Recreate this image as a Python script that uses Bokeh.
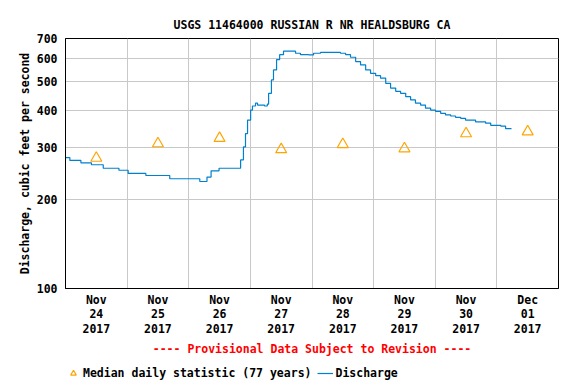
from bokeh.plotting import figure
from bokeh.layouts import column
from bokeh.models import (FixedTicker, PrintfTickFormatter, CustomJSTickFormatter,
                          Legend, LegendItem, Title, Range1d)
from bokeh.embed import file_html
from bokeh.resources import INLINE

# Discharge, hours after 2017-11-24 00:00 and cubic feet per second
q_hours = [0, 1.7, 6.0, 10.1, 14.7, 20.8, 24.4, 31.3, 40.6, 52.3, 55.1, 56.7, 59.8,
           66.9, 68.2, 69.3, 70.1, 70.9, 72.1, 72.8, 74.0, 74.8, 77.5, 78.6, 79.1,
           80.2, 81.0, 82.2, 83.4, 84.9, 86.9, 89.6, 91.5, 94.7, 96.6, 99.3, 103.2,
           107.1, 109.1, 111.0, 113.0, 114.9, 116.9, 118.8, 120.8, 122.7, 124.7,
           126.6, 128.6, 130.5, 132.5, 134.4, 136.3, 138.3, 140.2, 142.2, 144.1,
           146.1, 148.0, 150.0, 151.9, 153.9, 155.8, 159.7, 163.6, 165.6, 169.5,
           171.4, 173.7]
q_values = [277, 271, 266, 262, 255, 251, 245, 241, 235, 230, 238, 250, 255,
            255, 272, 301, 334, 371, 401, 414, 423, 417, 414, 420, 457,
            507, 548, 594, 617, 634, 634, 624, 617, 616, 624, 628, 628,
            624, 617, 605, 585, 570, 548, 534, 524, 514, 494,
            476, 464, 457, 445, 434, 423, 417, 407, 401, 397,
            391, 386, 383, 379, 376, 371, 366, 362, 356, 354,
            347, 347]

# Median daily statistic (77 years), at noon of each day
median_hours = [12, 36, 60, 84, 108, 132, 156, 180]
median_values = [276, 309, 322, 295, 307, 297, 334, 339]

day_labels = ["Nov\n24\n2017", "Nov\n25\n2017", "Nov\n26\n2017", "Nov\n27\n2017",
              "Nov\n28\n2017", "Nov\n29\n2017", "Nov\n30\n2017", "Dec\n01\n2017"]
midnight_hours = [24, 48, 72, 96, 120, 144, 168]
y_ticks = [100, 200, 300, 400, 500, 600, 700]

FONT = "DejaVu Sans Mono"
FS = "11.5px"
LINE_COLOR = "#0080d0"
TRI_COLOR = "#ffa500"

p = figure(frame_width=493, frame_height=250, y_axis_type="log",
           x_range=Range1d(0, 192), y_range=Range1d(100, 700),
           output_backend="svg", toolbar_location=None,
           min_border_left=65, min_border_right=18, min_border_top=38,
           min_border_bottom=74)

p.title.text = "USGS 11464000 RUSSIAN R NR HEALDSBURG CA"
p.title.align = "center"
p.title.text_font = FONT
p.title.text_font_size = FS
p.title.text_font_style = "bold"
p.title.text_color = "black"
p.title.offset = 0
p.title.standoff = 13

p.outline_line_color = "black"
p.outline_line_width = 1
p.background_fill_color = "white"
p.border_fill_color = "white"

# axes
p.yaxis.ticker = FixedTicker(ticks=y_ticks)
p.yaxis.formatter = PrintfTickFormatter(format="%d")
p.yaxis.axis_label = "Discharge, cubic feet per second"
p.yaxis.axis_label_text_font = FONT
p.yaxis.axis_label_text_font_size = FS
p.yaxis.axis_label_text_font_style = "bold"
p.yaxis.axis_label_text_color = "black"
p.yaxis.axis_label_standoff = 2

p.xaxis.ticker = FixedTicker(ticks=median_hours)
p.xaxis.formatter = CustomJSTickFormatter(args=dict(labels=day_labels),
                                          code="return labels[Math.round((tick - 12) / 24)];")

for ax in (p.xaxis[0], p.yaxis[0]):
    ax.major_tick_out = 0
    ax.major_tick_in = 0
    ax.minor_tick_out = 0
    ax.minor_tick_in = 0
    ax.axis_line_color = "black"
    ax.major_label_text_font = FONT
    ax.major_label_text_font_size = FS
    ax.major_label_text_font_style = "bold"
    ax.major_label_text_color = "black"
    ax.major_label_standoff = 8

p.xaxis.major_label_standoff = 4
p.xaxis.major_label_text_line_height = 1.05

p.xgrid.ticker = FixedTicker(ticks=midnight_hours)
p.ygrid.ticker = FixedTicker(ticks=y_ticks)
p.xgrid.grid_line_color = "#c8c8c8"
p.ygrid.grid_line_color = "#c8c8c8"
p.xgrid.minor_grid_line_color = None
p.ygrid.minor_grid_line_color = None

p.step(q_hours, q_values, mode="after", line_color=LINE_COLOR, line_width=1.2)
p.scatter(median_hours, median_values, marker="triangle", size=11,
          fill_color=None, line_color=TRI_COLOR, line_width=1.2)

prov = Title(text="---- Provisional Data Subject to Revision ----", align="center",
             text_font=FONT, text_font_size=FS, text_font_style="bold",
             text_color="#ff0000", offset=0, standoff=2)
p.add_layout(prov, "below")

# legend strip below the chart
lf = figure(width=576, height=22, x_range=Range1d(0, 1), y_range=Range1d(0, 1),
            output_backend="svg", toolbar_location=None,
            x_axis_location=None, y_axis_location=None, min_border=0)
lf.grid.visible = False
lf.outline_line_color = None
lf.background_fill_color = "white"
lf.border_fill_color = "white"
leg_tri = lf.scatter([-5], [-5], marker="triangle", size=11,
                     fill_color=None, line_color=TRI_COLOR, line_width=1.2)
leg_line = lf.line([-5, -4], [-5, -5], line_color=LINE_COLOR, line_width=1.2)

legend = Legend(items=[LegendItem(label="Median daily statistic (77 years)", renderers=[leg_tri]),
                       LegendItem(label="Discharge", renderers=[leg_line])],
                orientation="horizontal", location=(0, 4),
                label_text_font=FONT, label_text_font_size=FS,
                label_text_font_style="bold", label_text_color="black",
                glyph_width=16, glyph_height=14, label_height=14,
                label_standoff=2, spacing=6, padding=0, margin=0,
                border_line_color=None, background_fill_color=None)
lf.add_layout(legend, "center")

layout = column(p, lf, spacing=0)
open("out.html", "w").write(file_html(layout, INLINE))
